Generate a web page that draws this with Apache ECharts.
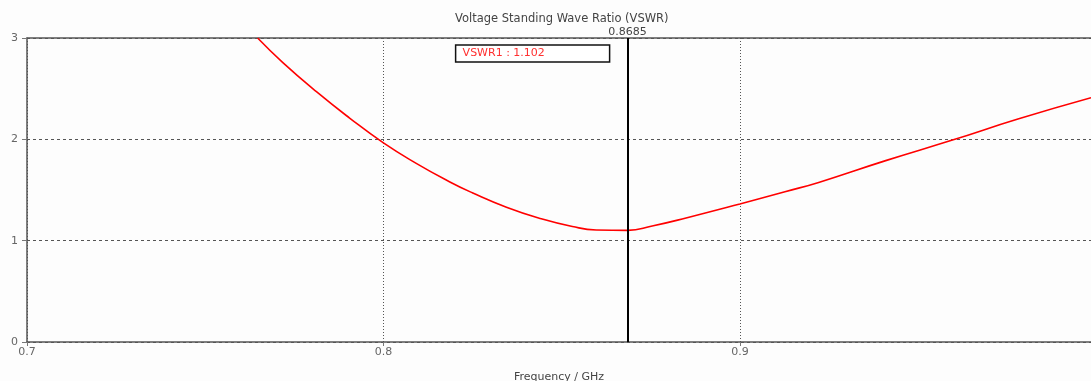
<!DOCTYPE html>
<html><head>
<meta charset="utf-8">
<title>VSWR</title>
<script src="https://cdn.jsdelivr.net/npm/echarts@6/dist/echarts.min.js"></script>
<style>
html,body{margin:0;padding:0;background:#fdfdfd;}
#main{width:1091px;height:381px;}
</style>
</head>
<body>
<div id="main"></div>
<script type="text/javascript">
// frequency (GHz) and VSWR
var freq = [0.7647, 0.7717, 0.7812, 0.7905, 0.8000, 0.8092, 0.8185, 0.8249, 0.8345, 0.8437, 0.8530, 0.8597, 0.8685, 0.8754, 0.8849, 0.9000, 0.9129, 0.9221, 0.9409, 0.9594, 0.9780, 0.9985];
var vswr = [3.00, 2.76, 2.47, 2.21, 1.965, 1.763, 1.582, 1.473, 1.33, 1.222, 1.14, 1.106, 1.102, 1.145, 1.224, 1.362, 1.485, 1.575, 1.79, 1.99, 2.20, 2.41];
var markerFreq = 0.8685;
var markerName = 'VSWR1';
var markerValue = 1.102;

var pts = [];
for (var i = 0; i < freq.length; i++) {
    pts.push([freq[i], vswr[i]]);
}

var myChart = echarts.init(document.getElementById('main'));
var font = 'DejaVu Sans';

option = {
    backgroundColor: '#fdfdfd',
    animation: false,
    title: {
        text: 'Voltage Standing Wave Ratio (VSWR)',
        left: 450,
        top: 8,
        textStyle: { fontFamily: font, fontSize: 11.5, fontWeight: 'normal', color: '#444' }
    },
    grid: { left: 27, right: 0, top: 38, bottom: 39, outerBoundsMode: 'none', containLabel: false },
    xAxis: [{
        type: 'value',
        min: 0.7,
        max: 0.9985,
        interval: 0.1,
        name: 'Frequency / GHz',
        nameLocation: 'middle',
        nameGap: 30,
        nameTextStyle: { fontFamily: font, fontSize: 11, color: '#444' },
        axisLine: { lineStyle: { color: '#555', width: 1.5 } },
        axisTick: { show: true, length: 4, lineStyle: { color: '#777' } },
        axisLabel: {
            fontFamily: font, fontSize: 11, color: '#666', margin: 5,
            showMaxLabel: false,
            formatter: function (v) { return v.toFixed(1); }
        },
        splitLine: { show: true, lineStyle: { color: '#555', type: [1, 2] } }
    }, {
        type: 'value',
        position: 'top',
        min: 0.7,
        max: 0.9985,
        axisLine: { show: true, onZero: false, lineStyle: { color: '#555', width: 1.5 } },
        axisTick: { show: false },
        axisLabel: { show: false },
        splitLine: { show: false }
    }],
    yAxis: {
        type: 'value',
        min: 0,
        max: 3,
        interval: 1,
        axisLine: { show: true, lineStyle: { color: '#555', width: 1.5 } },
        axisTick: { show: true, length: 5, lineStyle: { color: '#777' } },
        axisLabel: { fontFamily: font, fontSize: 11, color: '#666', margin: 9 },
        splitLine: { show: true, lineStyle: { color: '#555', type: [3, 3] } }
    },
    series: [{
        name: 'VSWR',
        type: 'line',
        data: pts,
        smooth: 0.5,
        showSymbol: false,
        clip: true,
        lineStyle: { color: '#ff0000', width: 1.6 },
        markLine: {
            silent: true,
            symbol: 'none',
            lineStyle: { color: '#000', width: 2, type: 'solid' },
            label: {
                show: true,
                position: 'end',
                distance: 0,
                fontFamily: font, fontSize: 11, color: '#444',
                formatter: function () { return markerFreq.toFixed(4); }
            },
            data: [[{ coord: [markerFreq, 0] }, { coord: [markerFreq, 3] }]]
        }
    }]
};
myChart.setOption(option);

// marker readout box, placed left of the marker line
var mx = myChart.convertToPixel({ xAxisIndex: 0 }, markerFreq);
myChart.setOption({
    graphic: [{
        type: 'rect',
        shape: { x: mx - 172, y: 45, width: 154, height: 17 },
        style: { fill: '#fff', stroke: '#111', lineWidth: 1.5 }
    }, {
        type: 'text',
        x: mx - 165,
        y: 48,
        style: {
            text: markerName + ' : ' + markerValue.toFixed(3),
            fill: '#ff3030',
            font: '11px "DejaVu Sans"'
        }
    }]
});
</script>
</body>
</html>
